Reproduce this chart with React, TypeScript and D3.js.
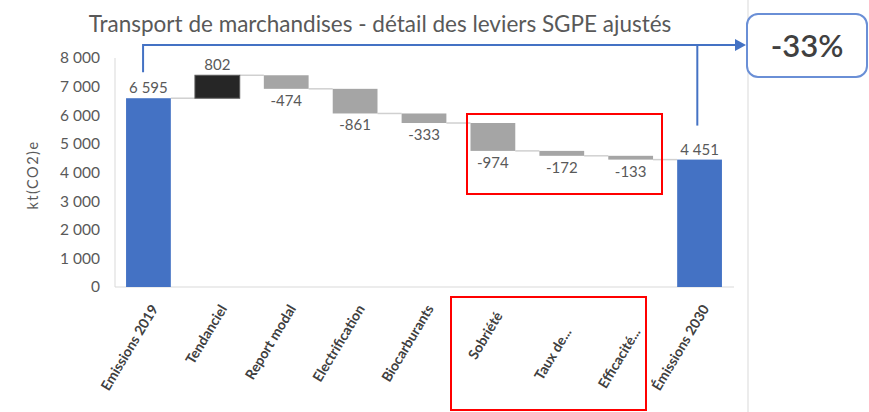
import React from "react";
import * as d3 from "d3";

const categories = [
  "Emissions 2019",
  "Tendanciel",
  "Report modal",
  "Electrification",
  "Biocarburants",
  "Sobriété",
  "Taux de...",
  "Efficacité...",
  "Émissions 2030",
];
const values = [6595, 802, -474, -861, -333, -974, -172, -133, 4451];
const kinds = ["total", "up", "down", "down", "down", "down", "down", "down", "total"];
const yTicks = [0, 1000, 2000, 3000, 4000, 5000, 6000, 7000, 8000];
const title = "Transport de marchandises - détail des leviers SGPE ajustés";
const yTitle = "kt(CO2)e";
const deltaLabel = "-33%";

// layout-only tweak: extra drop of some rotated category labels (px)
const labelDrop = [0, 0, 0, 0, 0, 7, 23, 23, 0];

const W = 869;
const H = 412;
const FONT = "Lato, 'Open Sans', sans-serif";
const COLORS: Record<string, string> = { total: "#4472C4", up: "#262626", down: "#A5A5A5" };

const fr = d3.formatLocale({ decimal: ",", thousands: "\u00a0", grouping: [3], currency: ["", "€"] });
const fmt = fr.format(",d");

export default function App() {
  const x = d3.scaleBand<string>().domain(categories).range([114, 734]).paddingInner(0.35).paddingOuter(0.175);
  const y = d3.scaleLinear().domain([0, 8000]).range([287, 58]);
  const bw = x.bandwidth();

  let run = 0;
  const segs = categories.map((c, i) => {
    const v = values[i];
    let start: number, end: number;
    if (kinds[i] === "total") {
      start = 0;
      end = v;
      run = v;
    } else {
      start = run;
      end = run + v;
      run = end;
    }
    return { c, v, start, end, kind: kinds[i], level: run };
  });

  const x0 = x(categories[0])! + bw * 0.38;
  const xLast = x(categories[categories.length - 1])! + bw * 0.45;
  const yTop = 45;

  return (
    <svg width={W} height={H} style={{ position: "absolute", left: 0, top: 0, background: "#fff" }} fontFamily={FONT}>
      <rect x={0} y={0} width={W} height={H} fill="#fff" />
      <line x1={748} x2={748} y1={0} y2={H} stroke="#d9d9d9" strokeWidth={1} />

      <text x={380} y={32} textAnchor="middle" fontSize={22.5} fill="#595959">
        {title}
      </text>

      <line x1={115} x2={115} y1={y(8000)} y2={y(0)} stroke="#d9d9d9" />
      <line x1={115} x2={734} y1={y(0)} y2={y(0)} stroke="#d9d9d9" />
      {yTicks.map((t) => (
        <text key={t} x={100} y={y(t)} dy="0.35em" textAnchor="end" fontSize={15.5} fill="#595959">
          {fmt(t)}
        </text>
      ))}
      <text
        transform={`translate(38,175) rotate(-90)`}
        textAnchor="middle"
        fontSize={14.5}
        letterSpacing={1.5}
        fill="#595959"
      >
        {yTitle}
      </text>

      {segs.slice(0, -1).map((s, i) => (
        <line
          key={"c" + i}
          x1={x(s.c)! + bw}
          x2={x(categories[i + 1])!}
          y1={y(s.level)}
          y2={y(s.level)}
          stroke="#d0d0d0"
          strokeWidth={1.5}
        />
      ))}

      {segs.map((s) => {
        const top = y(Math.max(s.start, s.end));
        const bot = y(Math.min(s.start, s.end));
        return (
          <rect
            key={s.c}
            x={x(s.c)}
            y={top}
            width={bw}
            height={Math.max(bot - top, 1)}
            fill={COLORS[s.kind]}
            stroke={s.kind === "up" ? "#595959" : "none"}
            strokeWidth={1}
          />
        );
      })}

      {segs.map((s) => {
        const cx = x(s.c)! + bw / 2;
        const above = s.v > 0;
        const ly = above ? y(Math.max(s.start, s.end)) - 5 : y(Math.min(s.start, s.end)) + 17;
        return (
          <text key={"l" + s.c} x={cx} y={ly} textAnchor="middle" fontSize={15} fill="#595959">
            {fmt(s.v).replace("−", "-")}
          </text>
        );
      })}

      {categories.map((c, i) => {
        const cx = x(c)! + bw / 2 + 6;
        const cy = 306 + labelDrop[i];
        return (
          <text
            key={"x" + c}
            transform={`translate(${cx},${cy}) rotate(-59)`}
            textAnchor="end"
            dy="0.35em"
            fontSize={14}
            fontWeight="bold"
            fill="#404040"
          >
            {c}
          </text>
        );
      })}

      <path d={`M${x0},${y(6595) - 26} V${yTop} H${737}`} fill="none" stroke="#4472C4" strokeWidth={2} />
      <path d={`M735,${yTop - 6} L746,${yTop} L735,${yTop + 6} Z`} fill="#4472C4" />
      <line x1={xLast} x2={xLast} y1={yTop} y2={y(4451) - 34} stroke="#4472C4" strokeWidth={2} />

      <rect x={747} y={14} width={120} height={63} rx={11} ry={11} fill="#fff" stroke="#6A8FD6" strokeWidth={2} />
      <text x={807} y={46} dy="0.35em" textAnchor="middle" fontSize={31} fontWeight={600} fill="#404040">
        {deltaLabel}
      </text>

      <rect x={467} y={114} width={195} height={80} fill="none" stroke="#FF0000" strokeWidth={2} />
      <rect x={451} y={297} width={195} height={113} fill="none" stroke="#FF0000" strokeWidth={2} />
    </svg>
  );
}
